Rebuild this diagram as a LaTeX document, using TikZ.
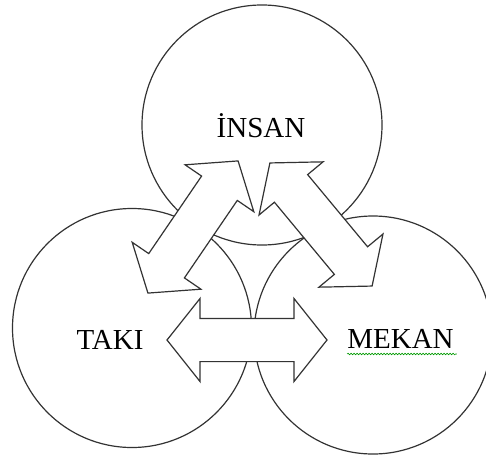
\documentclass[tikz,border=0pt]{standalone}
\usepackage{fontspec}
\setmainfont{Liberation Serif}
\usetikzlibrary{shapes.arrows,decorations.pathmorphing}

\begin{document}
\begin{tikzpicture}[x=1pt, y=1pt]
		\tikzstyle{ring} = [circle, draw=black!80, line width=1.2pt, inner sep=0pt]
		\tikzstyle{blockarrow} = [double arrow, draw=black!80, line width=1.2pt, fill=white, inner sep=0pt, inner ysep=21pt, minimum height=160pt, double arrow head extend=20pt, double arrow tip angle=103]
		\tikzstyle{word} = [inner sep=0pt, anchor=base, font=\fontsize{29}{34}\selectfont]
		\useasboundingbox (0,0) rectangle (486,456);
		\node[ring, minimum size=240pt] (insan) at (262,331) {};
		\node[ring, minimum size=239pt] (taki) at (132,128) {};
		\node[ring, minimum size=238pt] (mekan) at (373,121) {};
		\foreach \name/\x/\y/\ang in {ta/193/229/55.7, me/321/231.5/129.7, tm/247/116/0}
		\node[blockarrow, rotate=\ang] (\name) at (\x,\y) {};
		\node[word] (insanlbl) at (261,319) {İNSAN};
		\node[word] (takilbl) at (110,107) {TAKI};
		\node[word] (mekanlbl) at (400.5,107.5) {MEKAN};
		\draw[decorate, decoration={snake, amplitude=.8pt, segment length=3pt}, green!60!black, line width=.6pt] ([yshift=-5.5pt]mekanlbl.base west) -- ([yshift=-5.5pt, xshift=3pt]mekanlbl.base east);
	\end{tikzpicture}
\end{document}
